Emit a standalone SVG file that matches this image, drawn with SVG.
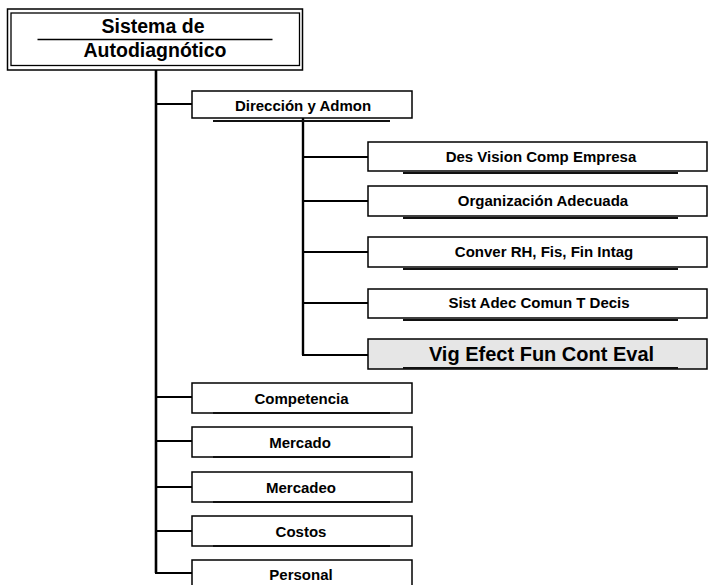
<svg xmlns="http://www.w3.org/2000/svg" width="709" height="585" viewBox="0 0 709 585">
<style>
.box{fill:#fff;stroke:#000;stroke-width:1.5}
.hl{fill:#e6e6e6;stroke:#000;stroke-width:1.5}
.sh{stroke:#111;stroke-width:2.2;fill:none}
.ln{stroke:#000;stroke-width:2;fill:none}
.t{font-family:"Liberation Sans",Arial,sans-serif;font-weight:bold;font-size:15px;fill:#000;text-anchor:middle}
.big{font-size:19.5px}
.vig{font-size:20px}
</style>
<rect width="709" height="585" fill="#fff"/>
<g id="connectors">
<line class="ln" x1="156" y1="70" x2="156" y2="573" style="stroke-width:2.6"/>
<line class="ln" x1="156" y1="104" x2="192" y2="104"/>
<line class="ln" x1="156" y1="397" x2="192" y2="397"/>
<line class="ln" x1="156" y1="441" x2="192" y2="441"/>
<line class="ln" x1="156" y1="487" x2="192" y2="487"/>
<line class="ln" x1="156" y1="531" x2="192" y2="531"/>
<line class="ln" x1="155" y1="573" x2="192" y2="573"/>
<line class="ln" x1="303" y1="118" x2="303" y2="355" style="stroke-width:2.4"/>
<line class="ln" x1="303" y1="157" x2="368" y2="157"/>
<line class="ln" x1="303" y1="201" x2="368" y2="201"/>
<line class="ln" x1="303" y1="252" x2="368" y2="252"/>
<line class="ln" x1="303" y1="303" x2="368" y2="303"/>
<line class="ln" x1="302" y1="355" x2="368" y2="355"/>
</g>
<g id="root">
<rect x="7.5" y="9" width="295" height="61" fill="#fff" stroke="#000" stroke-width="1.5"/>
<rect x="11" y="13" width="288.5" height="52.5" fill="none" stroke="#000" stroke-width="1.3"/>
<line x1="37.5" y1="39.5" x2="272.5" y2="39.5" stroke="#000" stroke-width="1.3"/>
<text class="t big" x="153" y="33">Sistema de</text>
<text class="t big" x="155" y="57">Autodiagnótico</text>
</g>
<g id="direccion">
<rect class="box" x="192" y="91" width="220" height="27"/>
<line class="sh" x1="213" y1="121" x2="390" y2="121"/>
<text class="t" x="303" y="111">Dirección y Admon</text>
</g>
<g id="desvision">
<rect class="box" x="368" y="142" width="339" height="29"/>
<line class="sh" x1="403" y1="173" x2="678" y2="173"/>
<text class="t" x="541" y="162">Des Vision Comp Empresa</text>
</g>
<g id="organizacion">
<rect class="box" x="368" y="186" width="339" height="30"/>
<line class="sh" x1="403" y1="218" x2="678" y2="218"/>
<text class="t" x="543" y="206">Organización Adecuada</text>
</g>
<g id="conver">
<rect class="box" x="368" y="237" width="339" height="30"/>
<line class="sh" x1="403" y1="269" x2="678" y2="269"/>
<text class="t" x="544" y="257">Conver RH, Fis, Fin Intag</text>
</g>
<g id="sist">
<rect class="box" x="368" y="289" width="339" height="29"/>
<line class="sh" x1="403" y1="320" x2="678" y2="320"/>
<text class="t" x="539" y="308">Sist Adec Comun T Decis</text>
</g>
<g id="vig">
<rect class="hl" x="368" y="339" width="339" height="30"/>
<line class="sh" x1="403" y1="368" x2="678" y2="368"/>
<text class="t vig" x="541.5" y="361">Vig Efect Fun Cont Eval</text>
</g>
<g id="competencia">
<rect class="box" x="192" y="383" width="220" height="30"/>
<line class="sh" x1="213" y1="413" x2="390" y2="413"/>
<text class="t" x="301.5" y="404">Competencia</text>
</g>
<g id="mercado">
<rect class="box" x="192" y="427" width="220" height="30"/>
<line class="sh" x1="213" y1="457" x2="390" y2="457"/>
<text class="t" x="300" y="448">Mercado</text>
</g>
<g id="mercadeo">
<rect class="box" x="192" y="472" width="220" height="30"/>
<line class="sh" x1="213" y1="502" x2="390" y2="502"/>
<text class="t" x="301" y="493">Mercadeo</text>
</g>
<g id="costos">
<rect class="box" x="192" y="516" width="220" height="30"/>
<line class="sh" x1="213" y1="546" x2="390" y2="546"/>
<text class="t" x="301" y="537">Costos</text>
</g>
<g id="personal">
<rect class="box" x="192" y="560" width="220" height="32"/>
<text class="t" x="301" y="580">Personal</text>
</g>
</svg>
